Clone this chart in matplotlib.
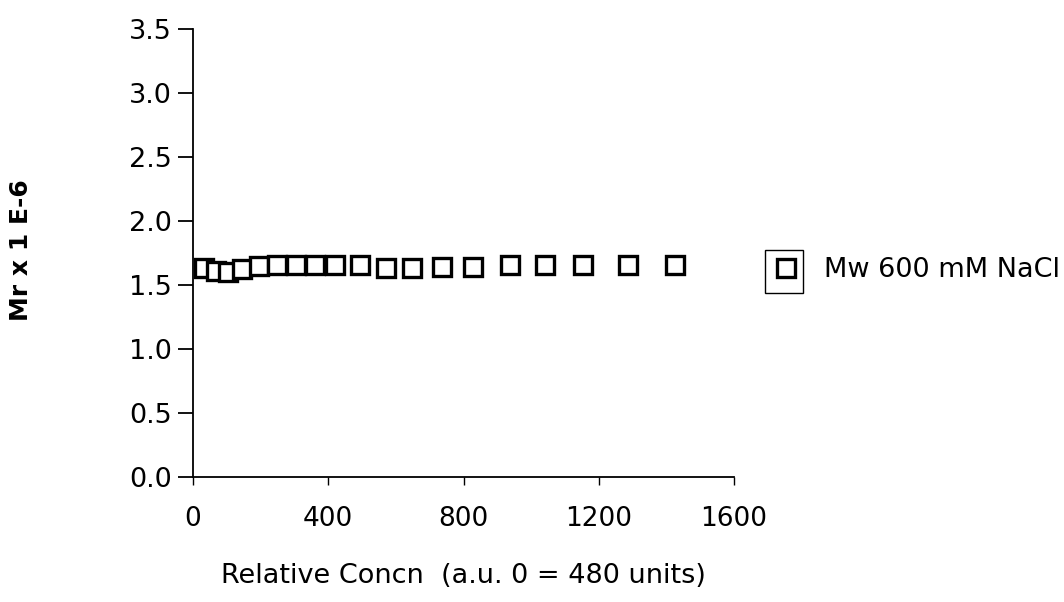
import matplotlib
matplotlib.use("Agg")
import matplotlib.pyplot as plt
from matplotlib.patches import Rectangle

concn = [32, 68, 104, 145, 195, 248, 305, 361, 420, 494, 571, 648, 737, 828, 938, 1041, 1154, 1287, 1426]
mw = [1.63, 1.61, 1.60, 1.625, 1.65, 1.66, 1.66, 1.66, 1.66, 1.66, 1.63, 1.63, 1.64, 1.64, 1.66, 1.66, 1.66, 1.66, 1.66]
xticks = [0, 400, 800, 1200, 1600]
yticks = [0.0, 0.5, 1.0, 1.5, 2.0, 2.5, 3.0, 3.5]
series_label = "Mw 600 mM NaCl"

plt.rcParams['font.family'] = ['DejaVu Sans']
fig = plt.figure(figsize=(10.64, 6.02), dpi=100)
ax = fig.add_axes([193/1064, 1-477/602, (734-193)/1064, (477-29)/602])

ln, = ax.plot(concn, mw, linestyle='none', marker='s', markersize=12.5,
              markerfacecolor='white', markeredgecolor='black', markeredgewidth=2.4,
              label=series_label, clip_on=False)

ax.set_xlim(0, 1600)
ax.set_ylim(0, 3.5)
ax.set_xticks(xticks)
ax.set_xticklabels([str(v) for v in xticks])
ax.set_yticks(yticks)
ax.set_yticklabels([f"{v:.1f}" for v in yticks])
for s in ['top', 'right']:
    ax.spines[s].set_visible(False)
for s in ['left', 'bottom']:
    ax.spines[s].set_linewidth(1.3)
ax.tick_params(axis='y', direction='out', length=11, width=1.3, labelsize=19.5, pad=4)
ax.tick_params(axis='x', direction='out', length=6, width=1.0, labelsize=19, pad=15)

ax.set_xlabel("Relative Concn  (a.u. 0 = 480 units)", fontsize=19.5, labelpad=22)
fig.text(21/1064, 1-250/602, "Mr x 1 E-6", rotation=90, fontsize=18, fontweight='bold',
         ha='center', va='center')

leg = fig.legend(handles=[ln], loc='center left', bbox_to_anchor=(775/1064, 1-270/602),
                 frameon=False, fontsize=19.5, handlelength=0.8, handletextpad=1.0,
                 borderpad=0, borderaxespad=0)
fig.patches.append(Rectangle((765/1064, 1-293/602), 38/1064, 43/602,
                             transform=fig.transFigure, fill=False, edgecolor='black',
                             linewidth=1.0))

fig.savefig("out.png", dpi=100)
